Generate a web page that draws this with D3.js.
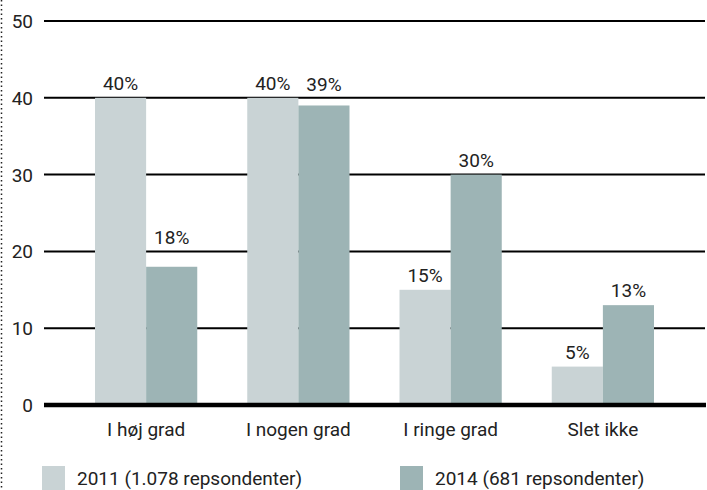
<!DOCTYPE html>
<html>
<head>
<meta charset="utf-8">
<script src="https://cdn.jsdelivr.net/npm/d3@7"></script>
<style>
  body { margin: 0; background: #fff; }
  svg { display: block; font-family: Roboto, "Noto Sans", sans-serif; }
</style>
</head>
<body>
<svg id="chart" width="707" height="490"></svg>
<script>
const categories = ["I høj grad", "I nogen grad", "I ringe grad", "Slet ikke"];
const series2011 = [40, 40, 15, 5];
const series2014 = [18, 39, 30, 13];
const seriesNames = ["2011 (1.078 repsondenter)", "2014 (681 repsondenter)"];
const yTicks = [0, 10, 20, 30, 40, 50];

const colors = ["#c9d3d5", "#9db4b5"];
const fontSize = 19;
const svg = d3.select("#chart");

const y = d3.scaleLinear().domain([0, 50]).range([405, 21]);
const x = d3.scaleBand().domain(categories).range([70, 679]).padding(0);
const sub = d3.scaleBand().domain([0, 1]).range([25, x.bandwidth() - 25]);

// dotted edge on the left
svg.append("line")
  .attr("x1", 1.5).attr("x2", 1.5).attr("y1", 0).attr("y2", 490)
  .attr("stroke", "#222").attr("stroke-width", 1.5)
  .attr("stroke-dasharray", "1.5,3");

// gridlines + tick labels
const grid = svg.append("g");
grid.selectAll("line")
  .data(yTicks.filter(d => d > 0))
  .join("line")
  .attr("x1", 44).attr("x2", 705)
  .attr("y1", d => y(d)).attr("y2", d => y(d))
  .attr("stroke", "#000").attr("stroke-width", 2);

grid.selectAll("text")
  .data(yTicks)
  .join("text")
  .attr("x", 33).attr("y", d => y(d) + 7)
  .attr("text-anchor", "end")
  .attr("font-size", fontSize).attr("fill", "#222")
  .text(d => d);

const rows = categories.map((c, i) => ({ cat: c, vals: [series2011[i], series2014[i]] }));

// keep value labels clear of gridlines
function labelY(v) {
  let base = y(v) - 8;
  yTicks.forEach(t => {
    const gy = y(t);
    if (t > 0 && gy < y(v) - 1 && gy > base - 15) base = gy - 7;
  });
  return base;
}

const groups = svg.append("g").selectAll("g")
  .data(rows)
  .join("g")
  .attr("transform", d => `translate(${x(d.cat)},0)`);

groups.selectAll("rect")
  .data(d => d.vals)
  .join("rect")
  .attr("x", (d, i) => sub(i))
  .attr("width", sub.bandwidth())
  .attr("y", d => y(d))
  .attr("height", d => y(0) - y(d))
  .attr("fill", (d, i) => colors[i]);

groups.selectAll("text.val")
  .data(d => d.vals)
  .join("text")
  .attr("class", "val")
  .attr("x", (d, i) => sub(i) + sub.bandwidth() / 2)
  .attr("y", d => labelY(d))
  .attr("text-anchor", "middle")
  .attr("font-size", fontSize).attr("fill", "#222")
  .text(d => d + "%");

// baseline
svg.append("line")
  .attr("x1", 44).attr("x2", 706)
  .attr("y1", y(0)).attr("y2", y(0))
  .attr("stroke", "#000").attr("stroke-width", 4.5);

// category labels
svg.append("g").selectAll("text")
  .data(categories)
  .join("text")
  .attr("x", d => x(d) + x.bandwidth() / 2)
  .attr("y", 436)
  .attr("text-anchor", "middle")
  .attr("font-size", fontSize).attr("fill", "#222")
  .text(d => d);

// legend
const legendX = [42, 400];
const legend = svg.append("g").selectAll("g")
  .data(seriesNames)
  .join("g")
  .attr("transform", (d, i) => `translate(${legendX[i]},466)`);

legend.append("rect")
  .attr("width", 23).attr("height", 24)
  .attr("fill", (d, i) => colors[i]);

legend.append("text")
  .attr("x", 35).attr("y", 19)
  .attr("font-size", fontSize).attr("fill", "#222")
  .text(d => d);
</script>
</body>
</html>
